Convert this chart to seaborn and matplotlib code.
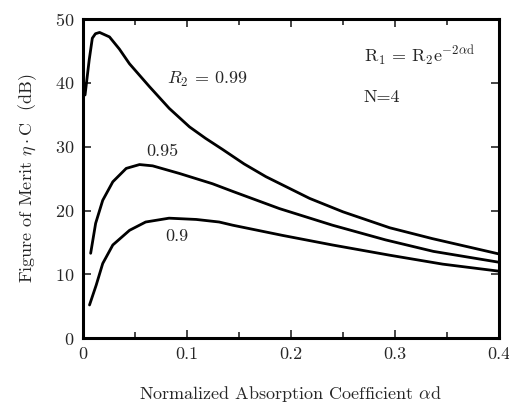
import numpy as np
import pandas as pd
import matplotlib
matplotlib.use("Agg")
import matplotlib.pyplot as plt
from matplotlib.ticker import MultipleLocator, FuncFormatter
import seaborn as sns

# curves, figure of merit (dB) vs alpha*d
x_099 = [0.002, 0.006, 0.009, 0.012, 0.016, 0.0255, 0.035, 0.0447, 0.064, 0.083, 0.1025, 0.118,
         0.134, 0.155, 0.176, 0.218, 0.25, 0.295, 0.336, 0.4]
y_099 = [38.1, 43.6, 47.0, 47.7, 47.9, 47.2, 45.3, 43.0, 39.4, 36.0, 33.1, 31.3,
         29.6, 27.3, 25.3, 21.9, 19.8, 17.3, 15.6, 13.2]

x_095 = [0.0074, 0.0122, 0.019, 0.0287, 0.0416, 0.0544, 0.067, 0.0929, 0.1245, 0.144,
         0.189, 0.24, 0.291, 0.337, 0.4]
y_095 = [13.3, 18.0, 21.6, 24.5, 26.6, 27.2, 27.0, 25.8, 24.2, 23.0,
         20.3, 17.7, 15.4, 13.6, 11.9]

x_090 = [0.0063, 0.0127, 0.019, 0.0287, 0.0448, 0.0603, 0.0828, 0.109, 0.131, 0.144,
         0.192, 0.24, 0.295, 0.346, 0.4]
y_090 = [5.2, 8.3, 11.7, 14.6, 16.9, 18.2, 18.8, 18.6, 18.2, 17.7,
         16.1, 14.6, 13.0, 11.6, 10.5]

sns.set_style("ticks")
plt.rcParams["font.family"] = ["cmr10", "DejaVu Serif"]
plt.rcParams["mathtext.fontset"] = "cm"
plt.rcParams["axes.formatter.use_mathtext"] = True

fig = plt.figure(figsize=(5.09, 4.05), dpi=100)
ax = fig.add_axes([0.163, 0.165, 0.817, 0.788])

for xs, ys in [(x_099, y_099), (x_095, y_095), (x_090, y_090)]:
    df = pd.DataFrame({"x": xs, "y": ys})
    sns.lineplot(data=df, x="x", y="y", ax=ax, color="black", linewidth=2.0, sort=False)

ax.set_xlim(0, 0.4)
ax.set_ylim(0, 50)
ax.xaxis.set_major_locator(MultipleLocator(0.1))
ax.xaxis.set_minor_locator(MultipleLocator(0.05))
ax.yaxis.set_major_locator(MultipleLocator(10))
ax.xaxis.set_major_formatter(FuncFormatter(lambda v, p: "0" if v == 0 else f"{v:.1f}"))

ax.tick_params(which="both", direction="in", top=True, right=True, labelsize=13, width=1.2)
ax.tick_params(which="major", length=6, pad=6)
ax.tick_params(which="minor", length=4)
for s in ax.spines.values():
    s.set_linewidth(2.2)
    s.set_color("black")

ax.set_xlabel(r"Normalized Absorption Coefficient $\alpha$d", fontsize=13, labelpad=16)
ax.set_ylabel(r"Figure of Merit $\eta\cdot$C  (dB)", fontsize=13, labelpad=12)

ax.text(0.12, 40.5, r"$R_2$ = 0.99", fontsize=13, ha="center", va="center")
ax.text(0.076, 29.2, "0.95", fontsize=13, ha="center", va="center")
ax.text(0.09, 16.0, "0.9", fontsize=13, ha="center", va="center")
ax.text(0.27, 44.2, r"R$_1$ = R$_2$e$^{-2\alpha\mathrm{d}}$", fontsize=13, ha="left", va="center")
ax.text(0.27, 37.7, "N=4", fontsize=13, ha="left", va="center")

fig.savefig("out.png", dpi=100)
